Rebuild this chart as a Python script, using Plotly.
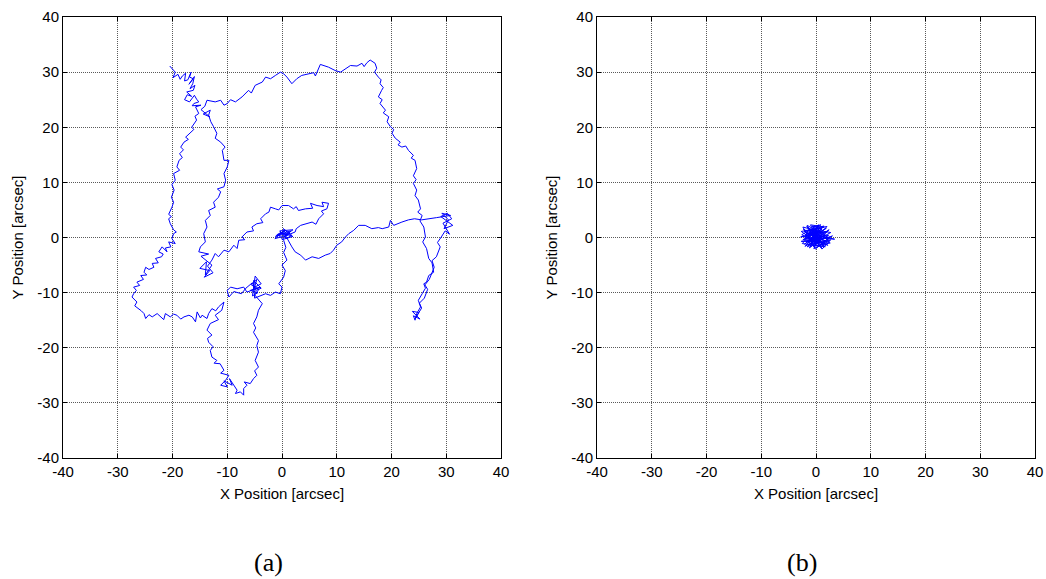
import plotly.graph_objects as go

# Pointing track (a), in time order, as (x, y) in arcsec, split into stretches
seg_start = [
    (-20.5, 31.1), (-19.5, 30.0), (-19.9, 29.0), (-19.0, 29.6), (-18.6, 28.7), (-18.2, 29.3), (-17.6, 29.8),
    (-17.8, 28.4), (-17.2, 28.6), (-16.6, 30.0), (-16.9, 29.1), (-16.2, 28.8), (-17.0, 27.8), (-16.0, 29.2),
    (-16.3, 27.9), (-16.8, 27.0), (-15.9, 27.6), (-16.2, 26.7), (-17.4, 26.4), (-16.5, 25.6), (-17.3, 25.9),
    (-17.8, 25.0), (-16.9, 24.6), (-16.0, 25.8), (-15.6, 25.1), (-15.2, 24.6), (-16.1, 24.3), (-16.4, 23.9),
    (-14.8, 24.0), (-15.8, 23.7),
]
seg_left = [
    (-15.2, 22.5), (-15.9, 22.0), (-15.6, 21.3), (-16.5, 20.0), (-16.1, 19.6), (-16.7, 19.1), (-17.6, 18.2),
    (-17.1, 17.8), (-17.9, 17.3), (-18.5, 16.4), (-18.0, 15.9), (-18.7, 15.2), (-18.2, 14.5), (-18.8, 14.0),
    (-19.2, 12.8), (-18.7, 12.2), (-19.8, 11.6), (-19.5, 10.4), (-20.1, 9.6), (-19.7, 8.6), (-20.2, 7.3),
    (-19.8, 6.4), (-20.1, 5.5), (-20.7, 4.2), (-20.2, 3.8), (-20.7, 3.4), (-20.4, 2.5), (-19.8, 1.4),
    (-19.3, 1.0), (-19.8, 0.7), (-20.1, -0.2), (-19.5, -1.1), (-20.7, -0.8), (-20.3, -1.7), (-21.3, -1.9),
    (-21.0, -2.6), (-21.9, -1.7), (-22.5, -2.6), (-21.7, -3.0), (-22.0, -3.5), (-23.1, -3.8), (-22.6, -4.6),
    (-23.7, -4.7), (-23.4, -5.4), (-24.3, -5.8), (-24.9, -5.4), (-25.2, -6.3), (-24.7, -6.8), (-25.8, -6.9),
    (-25.3, -7.6), (-26.5, -8.1), (-26.0, -8.7), (-27.1, -9.0), (-26.6, -9.6), (-27.1, -10.2), (-27.4, -10.8),
    (-26.5, -11.7), (-26.9, -12.4), (-26.2, -12.9), (-25.7, -13.3), (-25.2, -13.8), (-24.9, -14.7),
    (-24.3, -14.0), (-23.7, -14.4), (-22.8, -13.8), (-22.2, -14.4), (-21.6, -14.9), (-21.3, -13.8),
    (-20.4, -14.4), (-19.8, -13.9), (-19.2, -14.1), (-18.5, -14.8), (-17.9, -14.4), (-17.0, -14.1),
    (-16.4, -14.4), (-15.8, -15.3), (-15.5, -13.5), (-14.9, -14.6), (-14.6, -14.1), (-13.7, -14.7),
    (-13.4, -13.8), (-12.8, -12.9), (-12.1, -13.3), (-11.6, -12.6), (-10.6, -11.7),
]
seg_loop = [
    (-11.0, -13.2), (-12.2, -14.1), (-11.6, -14.9), (-13.1, -15.6), (-13.7, -16.8), (-12.8, -17.7),
    (-13.6, -18.3), (-13.4, -19.0), (-12.6, -19.8), (-13.1, -20.5), (-12.8, -21.7), (-11.9, -22.3),
    (-12.4, -22.8), (-11.3, -22.9), (-10.6, -24.1), (-11.2, -24.6), (-9.7, -25.0), (-10.3, -25.9),
    (-11.2, -26.8), (-10.0, -27.1), (-10.6, -26.0), (-9.1, -26.8), (-9.6, -25.6), (-8.2, -27.7),
    (-8.5, -28.3), (-7.6, -28.0), (-7.0, -28.6), (-7.0, -27.4), (-6.4, -26.8), (-6.9, -26.2), (-5.8, -26.5),
    (-5.2, -25.6), (-4.6, -25.0), (-5.0, -24.2), (-4.3, -23.5), (-4.9, -22.3), (-4.3, -20.8), (-4.6, -19.6),
    (-4.3, -18.7), (-5.2, -17.2), (-4.8, -16.4), (-5.2, -15.6), (-4.6, -14.4), (-4.3, -13.2), (-3.6, -12.0),
    (-4.3, -11.1),
]
seg_knot = [
    (-5.0, -10.4), (-4.2, -9.4), (-5.6, -8.6), (-4.6, -7.6), (-5.0, -9.0), (-3.8, -8.4), (-4.9, -7.0),
    (-5.4, -10.6), (-4.4, -10.0), (-5.8, -9.6), (-4.0, -9.0), (-6.4, -9.9), (-7.0, -9.0), (-8.2, -9.3),
    (-9.4, -9.0), (-10.0, -9.6), (-9.7, -10.8), (-8.8, -9.8), (-7.4, -10.2), (-6.6, -9.2), (-5.4, -8.2),
    (-4.8, -9.6), (-3.8, -9.2), (-5.2, -7.8), (-5.0, -11.0), (-4.0, -10.6),
]
seg_rise = [
    (-3.0, -10.2), (-2.1, -10.5), (-1.2, -9.9), (-0.3, -10.2), (0.0, -9.0), (-0.6, -8.4), (0.3, -7.2),
    (0.6, -6.0), (0.0, -5.0), (0.9, -4.1), (0.3, -2.7), (0.7, -1.8), (0.3, -0.5),
    (-0.8, 0.6), (0.6, 1.2), (-1.2, 0.2), (1.2, 0.8), (0.2, 1.6), (1.8, 0.4), (0.8, -0.2), (-0.4, 1.2),
    (2.0, 1.4), (0.4, 0.2), (2.4, 1.0),
]
seg_wing = [
    (2.6, 1.6), (3.4, 2.2), (4.3, 2.5), (5.5, 2.8), (6.2, 2.4), (6.7, 3.4), (7.6, 4.3), (7.2, 4.8), (8.2, 5.2),
    (8.5, 6.2), (7.3, 6.4), (7.6, 5.6), (6.4, 5.8), (5.2, 6.2), (5.6, 5.3), (4.3, 5.2), (3.0, 4.9), (2.6, 5.6),
    (2.1, 5.2), (1.2, 5.8), (0.0, 5.8), (-0.6, 5.0), (-1.2, 5.2), (-2.1, 5.5), (-2.4, 4.6), (-3.0, 4.3),
    (-3.9, 3.4), (-3.5, 2.7), (-4.6, 2.5), (-5.5, 1.9), (-5.2, 1.2), (-6.4, 1.0), (-7.3, 0.1), (-6.8, -0.4),
    (-7.9, -0.5), (-8.2, -2.0), (-8.8, -1.4), (-9.7, -2.6), (-10.6, -2.3), (-11.6, -3.5), (-12.2, -2.9),
    (-12.8, -4.1),
    (-13.6, -5.2), (-12.6, -6.4), (-14.2, -7.2), (-13.2, -6.0), (-15.0, -5.6), (-13.8, -4.4), (-14.0, -6.8),
    (-12.8, -5.0), (-14.8, -3.4), (-13.4, -3.0), (-15.2, -2.6),
]
seg_mid = [
    (-14.9, -1.7), (-14.0, -0.8), (-14.3, 0.7), (-13.7, 1.9), (-14.0, 3.1), (-13.1, 4.0), (-13.4, 4.9),
    (-12.2, 5.5), (-12.5, 6.4), (-11.6, 7.3), (-11.2, 8.3), (-11.8, 8.8), (-10.6, 9.2), (-10.3, 10.4),
    (-10.6, 11.6), (-10.0, 12.8), (-9.7, 14.0), (-10.6, 14.0), (-10.9, 15.8), (-10.4, 16.4), (-11.2, 17.3),
    (-12.2, 18.0), (-11.9, 18.9), (-12.5, 20.1), (-13.0, 21.0), (-13.4, 22.2), (-13.1, 23.1), (-14.4, 22.4),
    (-13.2, 21.9), (-14.8, 23.2), (-14.1, 23.8), (-13.7, 24.9),
]
seg_top = [
    (-12.2, 24.6), (-11.2, 24.9), (-10.6, 24.0), (-10.0, 24.3), (-9.4, 25.0), (-8.5, 24.6), (-7.3, 25.5),
    (-6.1, 26.7), (-5.6, 26.2), (-4.9, 27.6), (-3.6, 28.2), (-3.0, 29.1), (-2.1, 28.8), (-1.2, 29.4),
    (-0.3, 30.0), (0.3, 29.7), (0.9, 29.1), (1.8, 27.9), (2.7, 28.8), (3.6, 29.4), (4.9, 29.7), (5.8, 29.9),
    (6.1, 29.3), (7.0, 31.4), (8.5, 30.9), (9.7, 30.3), (10.7, 30.0), (11.6, 30.6), (12.5, 31.2), (13.7, 31.1),
    (14.6, 31.6), (15.0, 31.0), (15.5, 31.7), (16.1, 32.2), (17.0, 31.6), (17.3, 30.7), (16.9, 30.0),
]
seg_right = [
    (17.6, 29.1), (18.1, 28.6), (17.9, 27.9), (18.5, 27.2), (18.2, 26.7), (17.6, 25.5), (18.3, 25.0),
    (17.9, 24.3), (18.9, 23.1), (18.5, 22.6), (19.5, 21.9), (19.2, 21.0), (19.8, 20.1), (20.4, 19.6),
    (20.1, 18.9), (20.7, 18.0), (21.6, 17.3), (21.2, 16.8), (21.9, 16.4), (22.6, 16.6), (23.1, 15.8),
    (24.0, 14.9), (23.6, 14.4), (24.3, 14.0), (24.6, 12.5), (24.0, 11.2), (24.5, 10.5), (24.0, 9.8),
    (24.6, 8.6), (24.3, 7.6), (24.9, 6.8), (25.3, 5.2), (24.8, 4.6), (25.6, 4.0), (25.2, 3.0), (25.9, 1.9),
    (26.2, 0.1), (25.7, -0.8), (26.4, -2.0), (26.8, -3.8), (27.4, -4.6), (27.7, -6.3), (26.8, -6.9),
    (26.4, -8.1), (25.9, -8.4), (26.2, -9.2), (25.6, -10.2), (24.9, -11.4), (25.3, -12.6), (24.6, -13.8),
    (24.3, -15.0), (24.0, -14.2), (25.2, -14.8), (23.8, -13.4), (25.0, -13.6), (24.4, -14.6),
]
seg_return = [
    (25.5, -12.8), (25.1, -11.9), (26.0, -11.0), (26.6, -9.4), (26.1, -8.6), (26.9, -7.6), (27.8, -5.4),
    (27.4, -4.2), (28.2, -3.5), (28.9, -1.7), (28.4, -0.9), (29.1, 0.1),
    (29.8, 1.2), (30.6, 0.6), (29.4, 2.6), (31.0, 3.4), (30.2, 4.4), (29.0, 3.8), (31.2, 2.2), (29.6, 1.6),
    (30.4, 3.2), (29.2, 4.4), (30.8, 4.0),
    (28.2, 3.6), (26.5, 3.4), (25.5, 3.2), (24.2, 3.4), (23.1, 3.2), (21.9, 2.8), (20.4, 2.2), (19.8, 3.1),
    (19.5, 1.9), (18.3, 1.6), (17.6, 1.8), (16.4, 1.6), (15.2, 2.2), (14.0, 2.2), (13.1, 1.3), (12.2, 0.7),
    (11.6, 0.1), (10.9, -0.8), (10.0, -1.4), (9.4, -2.3), (8.8, -2.9), (7.9, -3.2), (6.7, -3.8), (5.5, -3.5),
    (4.3, -4.1), (3.4, -3.2), (2.4, -2.6), (1.8, -1.7), (1.2, -0.5),
    (0.4, 0.8), (-1.0, 0.4), (1.6, 1.2), (0.0, -0.4), (2.0, 0.2), (-0.4, 1.0), (1.0, 0.4), (-1.3, -0.2),
    (0.6, 1.4),
]

# Pointing track (b): stabilised, stays within a few arcsec of the origin
seg_stable = [
    (0.2, 0.1), (-1.9, 1.0), (1.7, -1.1), (-0.7, 2.1), (1.1, 1.5), (-2.4, -0.4), (2.3, 0.4), (-1.0, -1.7),
    (0.5, 2.3), (-2.6, 0.5), (1.5, -1.6), (-1.4, 1.6), (2.5, -0.6), (-0.4, -2.0), (0.9, 0.8), (-2.1, -1.2),
    (1.9, 1.7), (-0.6, 0.3), (0.1, -1.5), (-1.6, 2.2), (2.4, -0.1), (-2.7, -0.7), (0.8, -0.6), (-1.1, 1.1),
    (1.4, 2.1), (-2.0, -1.6), (2.7, 0.9), (-0.2, 1.4), (1.0, -1.9), (-2.3, 1.5), (2.0, -0.8), (-0.9, -1.0),
    (0.4, 2.2), (-1.5, -0.2), (1.6, 0.2), (-0.5, -1.6), (2.6, -1.0), (-2.2, 1.1), (0.6, 1.7), (-1.2, -1.9),
    (2.1, 1.1), (-2.8, 0.1), (0.0, 0.7), (1.2, -1.2), (-1.7, 2.0), (1.1, 0.1), (-0.7, -0.5), (2.4, 1.4),
    (-1.4, -1.4), (0.2, 2.0), (-2.5, -1.1), (1.7, -1.7), (-0.4, 0.5), (3.4, -0.3), (1.8, -0.2), (3.0, 0.3),
    (0.7, -1.4), (-2.0, 0.4), (1.5, 1.9), (-1.0, 2.3), (0.5, -0.9), (-1.9, -0.7), (2.5, 0.1), (-0.1, -2.1),
    (-2.4, 1.9), (1.4, 0.9), (-0.9, 0.7), (1.0, -0.4), (-1.6, -1.7), (2.0, 2.0), (-2.7, 1.1), (0.0, -0.8),
    (1.6, -1.0), (-0.6, 1.9), (0.9, 2.3), (-2.1, -0.1), (2.2, -1.4), (-1.1, -0.1), (0.4, 0.4), (-1.3, 1.3),
    (1.1, -2.1), (2.7, -0.4), (-0.5, -1.2), (-1.8, 0.7), (0.6, 1.1), (1.7, 0.5), (-0.2, -0.3),
]

tick_vals = [-40, -30, -20, -10, 0, 10, 20, 30, 40]
tick_text = [str(v) for v in tick_vals]
x_title = "X Position [arcsec]"
y_title = "Y Position [arcsec]"
captions = ["(a)", "(b)"]

track_a = seg_start + seg_left + seg_loop + seg_knot + seg_rise + seg_wing + seg_mid + seg_top + seg_right + seg_return
track_b = seg_stable

W, H = 1046, 579
blue = "#0000ff"

fig = go.Figure()
for pts, xa, ya in [(track_a, "x", "y"), (track_b, "x2", "y2")]:
    fig.add_trace(go.Scatter(
        x=[p[0] for p in pts], y=[p[1] for p in pts], mode="lines",
        line=dict(color=blue, width=1), xaxis=xa, yaxis=ya,
        showlegend=False, hoverinfo="skip",
    ))

tick_font = dict(family="Liberation Sans, Arial, sans-serif", size=15, color="black")
axis_style = dict(
    range=[-40, 40], tickmode="array", tickvals=tick_vals, ticktext=tick_text,
    ticks="inside", ticklen=4, tickwidth=1, tickcolor="black",
    showline=True, linecolor="black", linewidth=1, mirror="allticks",
    showgrid=True, gridcolor="#5a5a5a", gridwidth=1, griddash="1px,1px",
    zeroline=False, tickfont=tick_font, fixedrange=True, automargin=False,
)

y_dom = [1 - 458 / H, 1 - 17 / H]
left_dom = [63 / W, 501 / W]
right_dom = [597 / W, 1035 / W]

fig.update_layout(
    width=W, height=H, margin=dict(l=0, r=0, t=0, b=0, autoexpand=False),
    paper_bgcolor="white", plot_bgcolor="white",
    xaxis=dict(axis_style, domain=left_dom, anchor="y",
               title=dict(text=x_title, font=tick_font, standoff=9)),
    yaxis=dict(axis_style, domain=y_dom, anchor="x",
               title=dict(text=y_title, font=tick_font, standoff=10)),
    xaxis2=dict(axis_style, domain=right_dom, anchor="y2",
                title=dict(text=x_title, font=tick_font, standoff=9)),
    yaxis2=dict(axis_style, domain=y_dom, anchor="x2",
                title=dict(text=y_title, font=tick_font, standoff=10)),
)

for cap, dom in zip(captions, [left_dom, right_dom]):
    fig.add_annotation(
        text=cap, xref="paper", yref="paper",
        x=(dom[0] + dom[1]) / 2 - 14 / W, y=1 - 562 / H,
        xanchor="center", yanchor="middle", showarrow=False,
        font=dict(family="Liberation Serif, DejaVu Serif, serif", size=26, color="black"),
    )

fig.write_html("out.html")
